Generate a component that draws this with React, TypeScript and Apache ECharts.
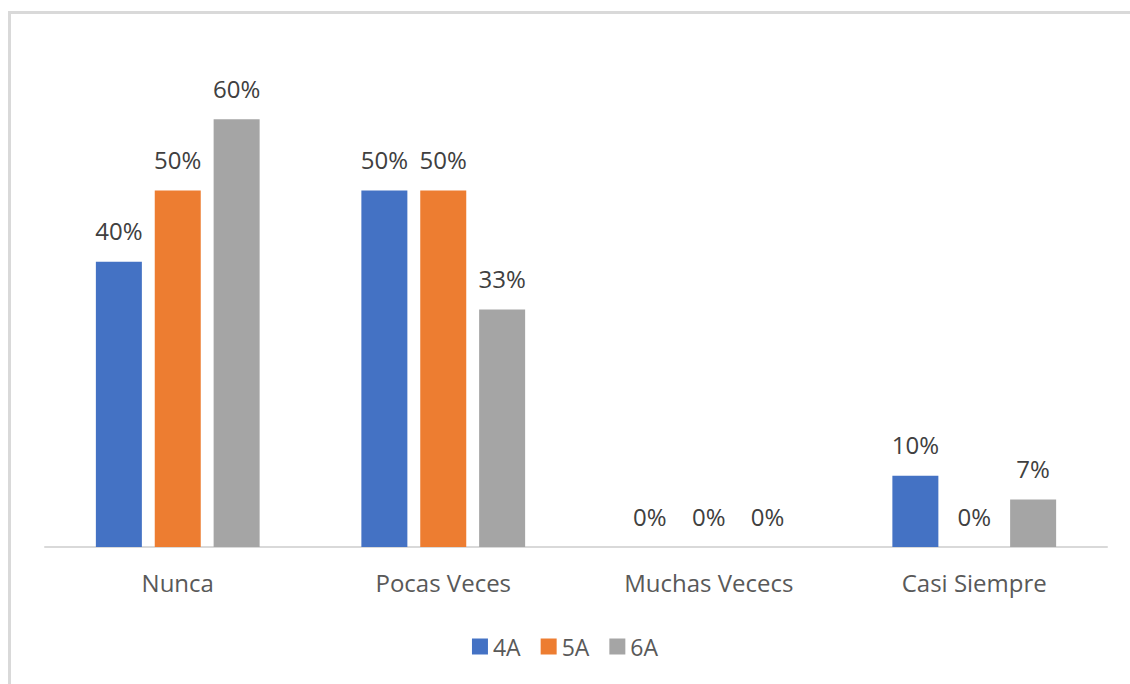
import React, { useEffect, useRef } from "react";
import * as echarts from "echarts";

const categories = ["Nunca", "Pocas Veces", "Muchas Vececs", "Casi Siempre"];
const seriesNames = ["4A", "5A", "6A"];
const values4A = [0.4, 0.5, 0, 0.1];
const values5A = [0.5, 0.5, 0, 0];
const values6A = [0.6, 0.3333, 0, 0.0667];
const colors = ["#4472C4", "#ED7D31", "#A5A5A5"];

export default function App() {
  const ref = useRef<HTMLDivElement>(null);
  useEffect(() => {
    document.body.style.margin = "0";
    const chart = echarts.init(ref.current!, undefined, { renderer: "svg" });
    const font = "Open Sans";
    const allValues = [values4A, values5A, values6A];
    chart.setOption({
      animation: false,
      backgroundColor: "#ffffff",
      graphic: [
        {
          type: "rect",
          shape: { x: 9.5, y: 12.5, width: 1200, height: 800 },
          style: { fill: "none", stroke: "#d9d9d9", lineWidth: 3 },
          silent: true,
        },
      ],
      grid: { left: 45, right: 23, top: 48, bottom: 137, containLabel: false },
      legend: {
        data: seriesNames,
        bottom: 21,
        left: "center",
        itemWidth: 16,
        itemHeight: 16,
        itemGap: 20,
        itemTextGap: 8,
        icon: "rect",
        textStyle: { fontFamily: font, fontSize: 23, color: "#595959" },
      },
      xAxis: {
        type: "category",
        data: categories,
        axisLine: { lineStyle: { color: "#d9d9d9", width: 2 } },
        axisTick: { show: false },
        axisLabel: { fontFamily: font, fontSize: 24, color: "#595959", margin: 23 },
      },
      yAxis: {
        type: "value",
        min: 0,
        max: 0.7,
        show: false,
        splitLine: { show: false },
      },
      series: seriesNames.map((name, i) => ({
        name,
        type: "bar",
        data: allValues[i],
        barWidth: 46,
        barGap: "28%",
        itemStyle: { color: colors[i] },
        label: {
          show: true,
          position: "top",
          distance: 19,
          fontFamily: font,
          fontSize: 24,
          color: "#404040",
          formatter: (p: any) => Math.round(p.value * 100) + "%",
        },
      })),
    });
    return () => chart.dispose();
  }, []);
  return <div ref={ref} style={{ width: 1130, height: 684 }} />;
}
